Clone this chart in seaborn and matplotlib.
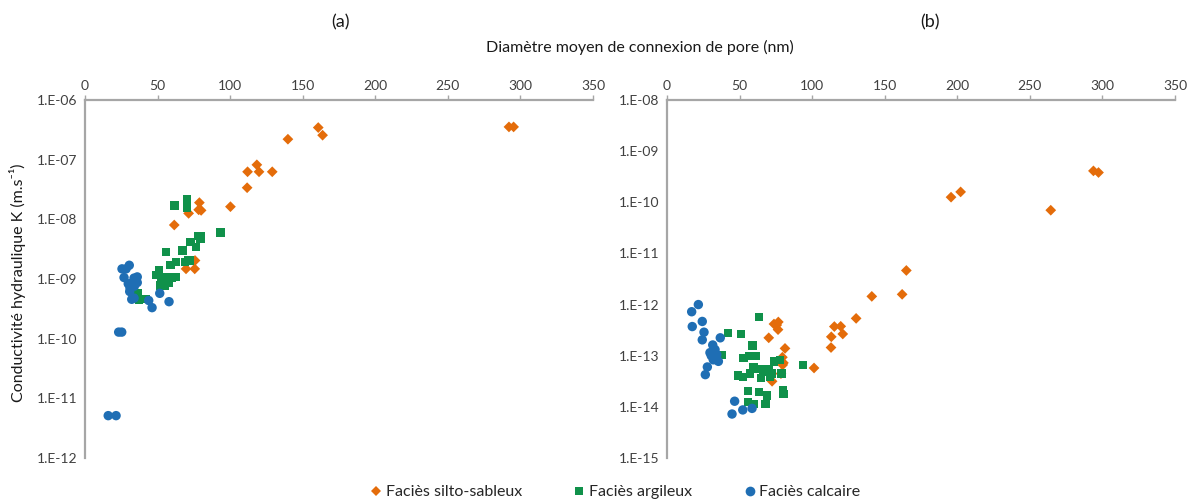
import numpy as np
import pandas as pd
import matplotlib
matplotlib.use("Agg")
import matplotlib.pyplot as plt
from matplotlib.ticker import FixedLocator, FuncFormatter
from matplotlib.lines import Line2D
import seaborn as sns

# ---------------- data (x = pore diameter nm, y = log10 K) ----------------
a_sable_x = [292.1, 295.3, 160.7, 163.7, 139.8, 118.4, 112.0, 119.9, 129.0, 111.7, 100.2,
             78.8, 78.3, 80.0, 71.4, 61.5, 75.8, 69.6, 75.6]
a_sable_logk = [-6.451, -6.451, -6.462, -6.59, -6.657, -7.086, -7.203, -7.203, -7.203, -7.47, -7.788,
                -7.72, -7.84, -7.85, -7.90, -8.095, -8.69, -8.83, -8.83]

a_argile_x = [70.1, 61.6, 70.5, 93.3, 78.1, 79.7, 79.5, 72.8, 76.7, 67.1, 56.0, 71.2, 72.4, 69.1,
              62.7, 58.8, 50.8, 48.9, 62.7, 59.7, 56.7, 52.6, 51.7, 55.1, 53.3, 57.5, 36.1, 41.6, 37.0]
a_argile_logk = [-7.665, -7.77, -7.80, -8.22, -8.28, -8.28, -8.32, -8.38, -8.46, -8.525, -8.553, -8.69,
                 -8.69, -8.715, -8.72, -8.76, -8.86, -8.93, -8.965, -8.975, -8.975, -9.05, -9.11, -9.11,
                 -9.0, -9.07, -9.24, -9.34, -9.35]

a_calc_x = [25.5, 28.3, 30.5, 26.9, 33.8, 36.0, 29.8, 32.2, 36.0, 30.8, 51.5, 32.2, 33.8, 43.9,
            46.2, 57.9, 23.2, 25.3, 16.0, 21.4, 31.0, 34.0]
a_calc_logk = [-8.83, -8.83, -8.77, -8.975, -8.985, -8.965, -9.08, -9.07, -9.06, -9.21, -9.24, -9.34,
               -9.32, -9.36, -9.48, -9.38, -9.89, -9.89, -11.29, -11.29, -9.15, -9.12]

b_sable_x = [293.8, 297.3, 195.7, 202.3, 264.4, 164.9, 162.0, 141.1, 130.3, 115.3, 119.7, 113.2,
             121.1, 113.0, 81.3, 101.3, 73.7, 76.7, 75.6, 76.5, 70.1, 79.5, 80.2, 79.7, 72.4, 78.5]
b_sable_logk = [-9.386, -9.418, -9.90, -9.797, -10.155, -11.333, -11.80, -11.84, -12.27, -12.43,
                -12.425, -12.63, -12.575, -12.84, -12.857, -13.24, -12.38, -12.34, -12.40, -12.49,
                -12.65, -13.03, -13.14, -13.18, -13.50, -13.35]

b_argile_x = [63.6, 41.8, 51.0, 59.0, 37.7, 52.6, 56.5, 61.1, 73.7, 77.9, 59.5, 61.8, 66.0, 67.8,
              70.5, 72.1, 71.0, 64.6, 79.0, 48.7, 52.2, 57.2, 56.0, 63.6, 69.1, 79.7, 80.2, 55.6,
              59.7, 67.8, 93.5]
b_argile_logk = [-12.24, -12.56, -12.575, -12.80, -12.98, -13.05, -13.01, -13.0, -13.11, -13.08,
                 -13.23, -13.26, -13.31, -13.26, -13.27, -13.35, -13.41, -13.43, -13.35, -13.39,
                 -13.42, -13.35, -13.69, -13.71, -13.78, -13.67, -13.75, -13.90, -13.95, -13.94, -13.18]

b_calc_x = [21.6, 17.0, 17.4, 24.3, 25.5, 24.3, 36.7, 31.5, 33.1, 29.6, 34.3, 31.9, 35.4, 27.8,
            26.4, 46.6, 44.8, 52.2, 58.6, 30.5, 33.5]
b_calc_logk = [-12.0, -12.14, -12.43, -12.33, -12.54, -12.69, -12.65, -12.79, -12.88, -12.94,
               -12.98, -13.08, -13.11, -13.22, -13.37, -13.89, -14.14, -14.06, -14.03, -13.0, -13.05]

categories = ["Faciès silto-sableux", "Faciès argileux", "Faciès calcaire"]
x_ticks = [0, 50, 100, 150, 200, 250, 300, 350]
a_ylim_exp = (-12, -6)
b_ylim_exp = (-15, -8)

# ---------------- styling ----------------
colors = {"Faciès silto-sableux": "#E46C0A",
          "Faciès argileux": "#10914A",
          "Faciès calcaire": "#1F6EB4"}
markers = {"Faciès silto-sableux": "D",
           "Faciès argileux": "s",
           "Faciès calcaire": "o"}
sizes = {"Faciès silto-sableux": 30, "Faciès argileux": 36, "Faciès calcaire": 46}

sns.set_style("white")
plt.rcParams["font.family"] = ["Lato", "DejaVu Sans"]

def build(sx, sy, ax_, ay, cx, cy):
    rows = []
    for cat, xs, ys in zip(categories, [sx, ax_, cx], [sy, ay, cy]):
        for x, y in zip(xs, ys):
            rows.append({"d": x, "K": 10.0 ** y, "facies": cat})
    return pd.DataFrame(rows)

df_a = build(a_sable_x, a_sable_logk, a_argile_x, a_argile_logk, a_calc_x, a_calc_logk)
df_b = build(b_sable_x, b_sable_logk, b_argile_x, b_argile_logk, b_calc_x, b_calc_logk)

fig = plt.figure(figsize=(11.99, 5.03), dpi=100)
W, H = 1199, 503
ax_a = fig.add_axes([85 / W, 1 - 458 / H, (593 - 85) / W, (458 - 100) / H])
ax_b = fig.add_axes([667 / W, 1 - 458 / H, (1175 - 667) / W, (458 - 100) / H])

spine_col = "#A6A6A6"
tick_col = "#404040"

def fmt(v, pos):
    e = int(round(np.log10(v)))
    return f"1.E{e:03d}"

for ax, df, (lo, hi) in [(ax_a, df_a, a_ylim_exp), (ax_b, df_b, b_ylim_exp)]:
    for cat in categories:
        sub = df[df["facies"] == cat]
        sns.scatterplot(data=sub, x="d", y="K", hue="facies", style="facies",
                        palette=colors, markers=markers, s=sizes[cat], linewidth=0,
                        ax=ax, legend=False, zorder=3)
    ax.set_yscale("log")
    ax.set_ylim(10.0 ** lo, 10.0 ** hi)
    ax.set_xlim(0, 350)
    ax.xaxis.set_major_locator(FixedLocator(x_ticks))
    ax.yaxis.set_major_locator(FixedLocator([10.0 ** e for e in range(lo, hi + 1)]))
    ax.yaxis.set_major_formatter(FuncFormatter(fmt))
    ax.yaxis.set_minor_locator(FixedLocator([]))
    ax.xaxis.tick_top()
    ax.xaxis.set_label_position("top")
    for side in ["right", "bottom"]:
        ax.spines[side].set_visible(False)
    for side in ["left", "top"]:
        ax.spines[side].set_color(spine_col)
        ax.spines[side].set_linewidth(1.6)
    ax.tick_params(axis="both", which="major", direction="out", length=3.5, width=1.0,
                   color=spine_col, labelcolor=tick_col, labelsize=10, pad=2)
    ax.tick_params(axis="x", top=True, bottom=False, labeltop=True, labelbottom=False)
    ax.set_xlabel("")
    ax.set_ylabel("")

fig.text(340 / W, 1 - 22 / H, "(a)", ha="center", va="center", fontsize=13, color="#1a1a1a")
fig.text(930 / W, 1 - 22 / H, "(b)", ha="center", va="center", fontsize=13, color="#1a1a1a")
fig.text(640 / W, 1 - 47 / H, "Diamètre moyen de connexion de pore (nm)", ha="center",
         va="center", fontsize=11.5, color="#1a1a1a")
fig.text(18 / W, 1 - 283 / H, "Conductivité hydraulique K (m.s\u207B\u00B9)", ha="center",
         va="center", rotation=90, fontsize=11.5, color="#1a1a1a",
         family=["Lato", "DejaVu Sans"])

handles = [Line2D([], [], linestyle="none", marker=markers[c], color=colors[c],
                  markersize={"D": 5.5, "s": 6, "o": 7}[markers[c]], markeredgewidth=0)
           for c in categories]
fig.legend(handles, categories, loc="center", bbox_to_anchor=(615 / W, 1 - 492 / H), ncol=3,
           frameon=False, fontsize=11.5, handletextpad=0.2, columnspacing=3.2, handlelength=0.8)

fig.savefig("out.png", dpi=100)
